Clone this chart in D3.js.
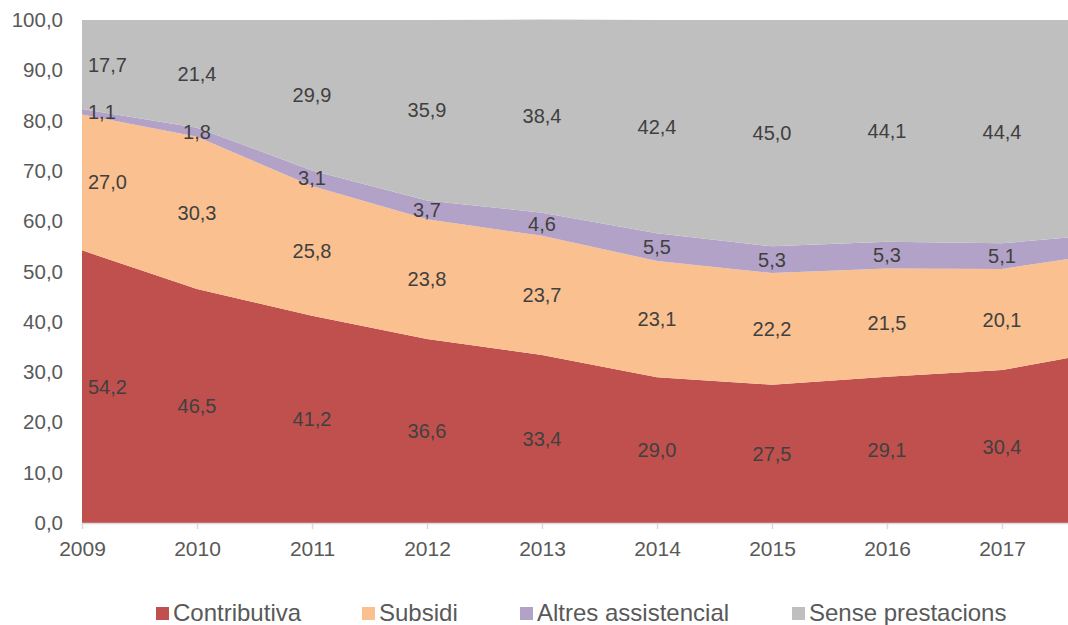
<!DOCTYPE html>
<html><head><meta charset="utf-8">
<script src="https://cdn.jsdelivr.net/npm/d3@7"></script>
<style>body{margin:0;background:#fff}svg{display:block}text{font-family:"Liberation Sans",Arial,sans-serif}</style>
</head><body>
<svg id="c" width="1068" height="625"></svg>
<script>
const years = [2009,2010,2011,2012,2013,2014,2015,2016,2017,2018];
const seriesNames = ["Contributiva","Subsidi","Altres assistencial","Sense prestacions"];
const contributiva = [54.2,46.5,41.2,36.6,33.4,29.0,27.5,29.1,30.4,34.6];
const subsidi      = [27.0,30.3,25.8,23.8,23.7,23.1,22.2,21.5,20.1,19.4];
const altres       = [1.1,1.8,3.1,3.7,4.6,5.5,5.3,5.3,5.1,3.6];
const sense        = [17.7,21.4,29.9,35.9,38.4,42.4,45.0,44.1,44.4,42.4];
const labelYears = [2009,2010,2011,2012,2013,2014,2015,2016,2017];
const yTicks = [0,10,20,30,40,50,60,70,80,90,100];
const colors = ["#c0504d","#fac090","#b3a2c7","#bfbfbf"];

const rows = years.map((y,i)=>({year:y, "Contributiva":contributiva[i], "Subsidi":subsidi[i], "Altres assistencial":altres[i], "Sense prestacions":sense[i]}));
const stack = d3.stack().keys(seriesNames)(rows);

const svg = d3.select("#c");
const L=82, R=1068, T=20, B=523;
const x = d3.scaleLinear().domain([2009,2017]).range([82,1002]);
const y = d3.scaleLinear().domain([0,100]).range([B,T]);
const fmt = v => d3.format(".1f")(v).replace(".",",");

svg.append("defs").append("clipPath").attr("id","clip").append("rect")
  .attr("x",L).attr("y",T-1).attr("width",R-L).attr("height",B-T+1);

const area = d3.area().x(d=>x(d.data.year)).y0(d=>y(d[0])).y1(d=>y(d[1]));
const g = svg.append("g").attr("clip-path","url(#clip)");
g.selectAll("path").data(stack).join("path")
  .attr("d",area).attr("fill",(d,i)=>colors[i]);

// x axis
const xAxis = d3.axisBottom(x).tickValues(labelYears).tickFormat(d3.format("d")).tickSize(6).tickPadding(12);
const xg = svg.append("g").attr("transform",`translate(0,${B})`).call(xAxis);
xg.select(".domain").attr("d",`M${L},0.5H${R}`).attr("stroke","#d9d9d9").attr("stroke-width",1.5);
xg.selectAll(".tick line").attr("stroke","#d9d9d9").attr("stroke-width",1.5);
xg.selectAll(".tick text").attr("fill","#595959").attr("font-size",21).attr("font-family","Liberation Sans, Arial, sans-serif");

// y axis
const yAxis = d3.axisLeft(y).tickValues(yTicks).tickFormat(fmt).tickSize(0).tickPadding(19);
const yg = svg.append("g").attr("transform",`translate(${L},0)`).call(yAxis);
yg.select(".domain").remove();
yg.selectAll(".tick text").attr("fill","#595959").attr("font-size",20.5).attr("font-family","Liberation Sans, Arial, sans-serif");

// data labels
stack.forEach((s,si)=>{
  s.forEach((d,i)=>{
    if(!labelYears.includes(d.data.year)) return;
    const cx = x(d.data.year), cy = y((d[0]+d[1])/2);
    const first = i===0;
    svg.append("text")
      .attr("x", first ? L+6 : cx)
      .attr("y", cy)
      .attr("dy","0.35em")
      .attr("text-anchor", first ? "start" : "middle")
      .attr("fill","#404040").attr("font-size",20)
      .text(fmt(d.data[seriesNames[si]]));
  });
});

// legend
const legendX = [156,362,520,792];
const lg = svg.append("g");
seriesNames.forEach((n,i)=>{
  lg.append("rect").attr("x",legendX[i]).attr("y",607).attr("width",13).attr("height",13).attr("fill",colors[i]);
  lg.append("text").attr("x",legendX[i]+17).attr("y",621).attr("fill","#595959").attr("font-size",24).text(n);
});
</script>
</body></html>
